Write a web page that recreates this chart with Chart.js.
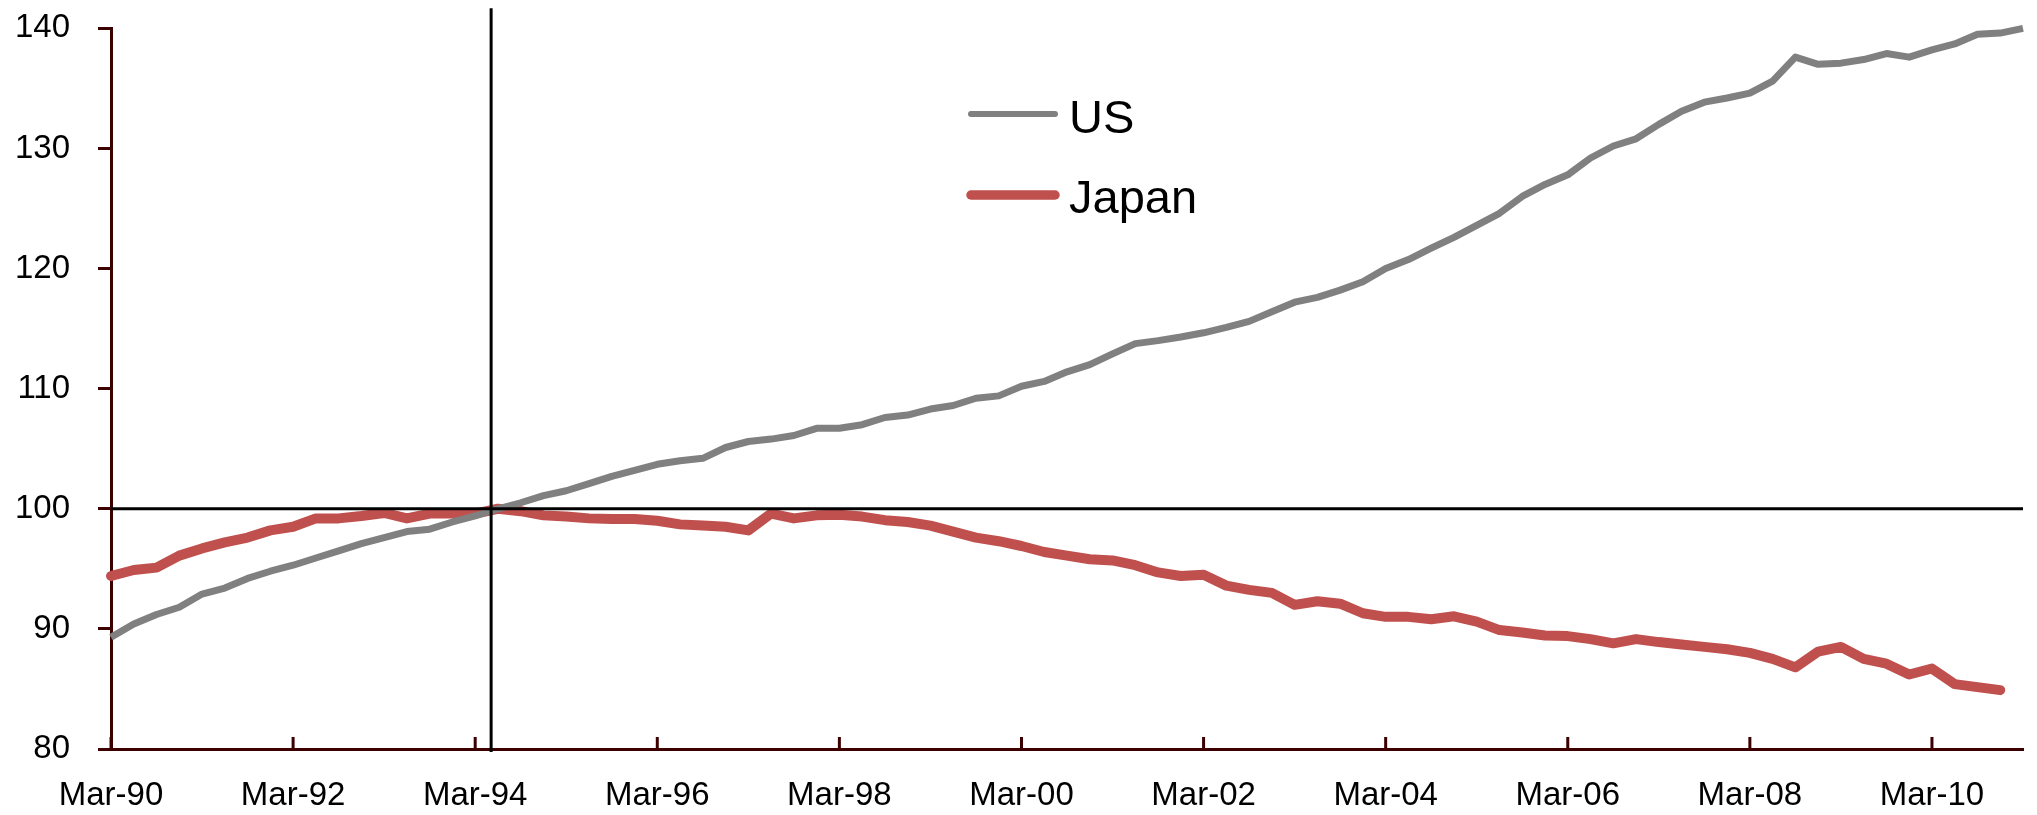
<!DOCTYPE html>
<html lang="en">
  <head>
    <meta charset="UTF-8" />
    <title>US vs Japan</title>
    <script src="https://cdn.jsdelivr.net/npm/chart.js@4.4.0/dist/chart.umd.min.js"></script>
    <style>
      html, body { margin: 0; padding: 0; background: #fff; }
      #wrap { width: 2037px; height: 815px; }
    </style>
  </head>
  <body>
    <div id="wrap"><canvas id="chart"></canvas></div>

    <script>
      // quarterly categories, Mar-90 .. Mar-11
      const quarterNames = ['Mar', 'Jun', 'Sep', 'Dec'];
      const firstYear = 1990;
      const lastYear = 2011;
      const labels = [];
      for (let yr = firstYear; yr <= lastYear; yr++) {
        for (const q of quarterNames) {
          if (yr === lastYear && q !== 'Mar') break;
          labels.push(q + '-' + String(yr).slice(2));
        }
      }

      const seriesNames = ['US', 'Japan'];

      const usValues = [
        89.3, 90.4, 91.2, 91.8, 92.9, 93.4, 94.2, 94.8, 95.3, 95.9, 96.5, 97.1, 97.6, 98.1, 98.3, 98.9, 99.4, 100.0,
        100.5, 101.1, 101.5, 102.1, 102.7, 103.2, 103.7, 104.0, 104.2, 105.1, 105.6, 105.8, 106.1, 106.7, 106.7, 107.0,
        107.6, 107.8, 108.3, 108.6, 109.2, 109.4, 110.2,
        110.6, 111.4, 112.0, 112.9, 113.75, 114.0, 114.3, 114.65, 115.1, 115.6, 116.4, 117.2, 117.6, 118.2, 118.9,
        120.0, 120.75, 121.7, 122.6, 123.6, 124.6, 126.0,
        127.0, 127.8, 129.2, 130.2, 130.8, 132.0, 133.1, 133.85, 134.2, 134.6, 135.6, 137.6, 137.0, 137.1, 137.4,
        137.9, 137.6, 138.2, 138.7, 139.5, 139.6, 140.0
      ];

      const japanValues = [
        94.4, 94.9, 95.1, 96.1, 96.7, 97.2, 97.6, 98.2, 98.5, 99.2, 99.2, 99.4, 99.65, 99.2, 99.6, 99.6, 99.6, 100.0,
        99.8, 99.45, 99.35, 99.2, 99.15, 99.15, 99.0, 98.7, 98.6, 98.5, 98.2, 99.6, 99.2, 99.45, 99.5, 99.35,
        99.05, 98.9, 98.6, 98.1, 97.6, 97.3, 96.9,
        96.4, 96.1, 95.8, 95.7, 95.3, 94.7, 94.4, 94.5, 93.6, 93.25, 93.0, 92.0, 92.3, 92.1, 91.3,
        91.0, 91.0, 90.8, 91.05, 90.6, 89.9, 89.7,
        89.45, 89.4, 89.15, 88.8, 89.15, 88.9, 88.7, 88.5, 88.3, 88.0, 87.5, 86.8, 88.1, 88.5, 87.5,
        87.1, 86.2, 86.7, 85.4, 85.15, 84.9, null
      ];

      const yMin = 80;
      const yMax = 140;
      const yStep = 10;
      const baseValue = 100;      // horizontal reference line
      const markerIndex = 16.7;   // vertical reference line, in category units
      const labelEvery = 8;       // one label every two years

      const axisColor = '#3d0000';
      const usColor = '#808080';
      const japanColor = '#c0504d';

      // reference lines, inward x ticks and the legend inside the plot
      const extras = {
        id: 'extras',
        afterDatasetsDraw(chart) {
          const { ctx, chartArea, scales: { x, y } } = chart;
          ctx.save();

          ctx.strokeStyle = axisColor;
          ctx.lineWidth = 3;
          for (let i = 0; i < labels.length; i += labelEvery) {
            const px = x.getPixelForValue(i);
            ctx.beginPath();
            ctx.moveTo(px, chartArea.bottom);
            ctx.lineTo(px, chartArea.bottom - 12);
            ctx.stroke();
          }

          ctx.strokeStyle = '#000';
          ctx.lineWidth = 3;
          const yy = y.getPixelForValue(baseValue);
          ctx.beginPath();
          ctx.moveTo(chartArea.left, yy);
          ctx.lineTo(chartArea.right, yy);
          ctx.stroke();

          const xx = x.getPixelForValue(markerIndex);
          ctx.beginPath();
          ctx.moveTo(xx, chartArea.top - 20);
          ctx.lineTo(xx, chartArea.bottom + 3);
          ctx.stroke();

          // legend
          const rows = [
            { text: seriesNames[0], color: usColor, width: 6, cy: 114, base: 133 },
            { text: seriesNames[1], color: japanColor, width: 9.5, cy: 195, base: 213 }
          ];
          ctx.lineCap = 'round';
          ctx.font = '47px "Liberation Sans", Arial, sans-serif';
          ctx.textBaseline = 'alphabetic';
          ctx.textAlign = 'left';
          rows.forEach(r => {
            ctx.strokeStyle = r.color;
            ctx.lineWidth = r.width;
            ctx.beginPath();
            ctx.moveTo(971, r.cy);
            ctx.lineTo(1055, r.cy);
            ctx.stroke();
            ctx.fillStyle = '#000';
            ctx.fillText(r.text, 1069, r.base);
          });

          ctx.restore();
        }
      };

      const ctx = document.getElementById('chart').getContext('2d');
      const myChart = new Chart(ctx, {
        type: 'line',
        data: {
          labels: labels,
          datasets: [{
            label: seriesNames[0],
            data: usValues,
            borderColor: usColor,
            borderWidth: 7,
            pointRadius: 0,
            tension: 0,
            borderJoinStyle: 'round',
            clip: false
          }, {
            label: seriesNames[1],
            data: japanValues,
            borderColor: japanColor,
            borderWidth: 10,
            pointRadius: 0,
            tension: 0,
            borderJoinStyle: 'round',
            borderCapStyle: 'round',
            clip: false
          }]
        },
        options: {
          responsive: true,
          maintainAspectRatio: false,
          animation: false,
          layout: { padding: { top: 28.3, right: 14, bottom: 0, left: 0 } },
          plugins: { legend: { display: false }, tooltip: { enabled: false } },
          scales: {
            x: {
              offset: false,
              // fixed axis height, and no extra room for the edge labels
              afterFit: s => { s.height = 66; s.paddingLeft = 0; s.paddingRight = 0; },
              grid: { display: true, drawOnChartArea: false, drawTicks: false },
              border: { display: true, color: axisColor, width: 3 },
              ticks: {
                autoSkip: false,
                maxRotation: 0,
                padding: 27,
                color: '#000',
                font: { family: '"Liberation Sans", Arial, sans-serif', size: 33 },
                callback: function (val, idx) {
                  return idx % labelEvery === 0 ? this.getLabelForValue(val) : '';
                }
              }
            },
            y: {
              min: yMin,
              max: yMax,
              afterFit: s => { s.width = 111; s.paddingTop = 0; s.paddingBottom = 0; },
              grid: { display: true, drawOnChartArea: false, drawTicks: true, tickLength: 13, color: axisColor, lineWidth: 3 },
              border: { display: true, color: axisColor, width: 3 },
              ticks: {
                stepSize: yStep,
                padding: 28,
                color: '#000',
                font: { family: '"Liberation Sans", Arial, sans-serif', size: 33 }
              }
            }
          }
        },
        plugins: [extras]
      });
    </script>
  </body>
</html>
